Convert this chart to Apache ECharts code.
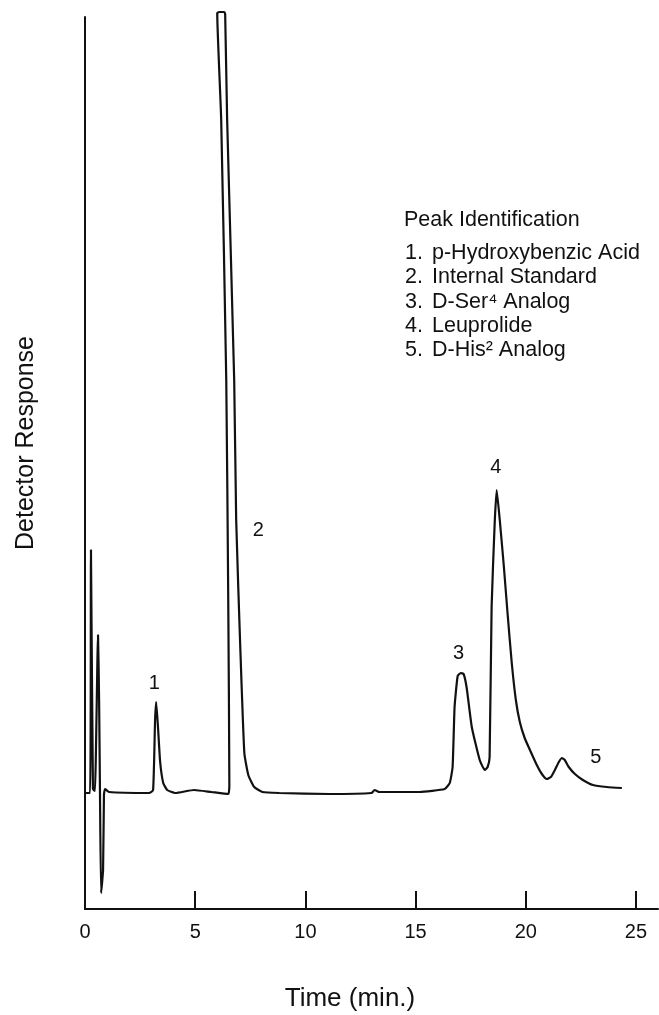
<!DOCTYPE html>
<html>
<head>
<meta charset="utf-8">
<title>Chromatogram</title>
<script src="https://cdn.jsdelivr.net/npm/echarts@6/dist/echarts.min.js"></script>
<style>
  html, body { margin: 0; padding: 0; background: #fff; }
  #chart { width: 659px; height: 1015px; }
</style>
</head>
<body>
<div id="chart"></div>
<script>
// trace: retention time (min) and detector response (arbitrary units, baseline = 0)
const time = [
  0, 0.23, 0.27, 0.36, 0.45, 0.59, 0.64, 0.68, 0.73, 0.82, 0.86, 0.91, 1.09,
  2.91, 3.09, 3.18, 3.23, 3.32, 3.41, 3.55, 3.73, 4.09, 4.95, 5.73,
  6.5, 6.55, 6.5, 6.41, 6.18, 6.0, 6.09, 6.32, 6.36, 6.45, 6.77, 6.86, 7.05, 7.23, 7.41, 7.68, 8.05,
  8.82, 11.09, 13.0, 13.14, 13.36, 15.18,
  16.32, 16.55, 16.68, 16.77, 16.91, 17.05, 17.18, 17.32, 17.55, 17.91, 18.14,
  18.27, 18.36, 18.45, 18.59, 18.68, 18.82, 19.0, 19.18, 19.36, 19.55, 19.73, 19.95,
  20.23, 20.5, 20.73, 20.95, 21.14, 21.32, 21.5, 21.64, 21.77, 21.95, 22.23, 22.59,
  23.05, 23.68, 24.36
];
const response = [
  0, 0, 243, 4, 2, 158, 93, 0, -100, -77, -2, 4, 1,
  0, 3, 73, 91, 63, 31, 10, 3, 0, 3, 1,
  -1, 8, 193, 413, 673, 780, 781, 781, 779, 673, 413, 273, 143, 40, 18, 6, 1,
  0, -1, 0, 3, 1, 1,
  4, 10, 26, 86, 117, 120, 119, 105, 66, 33, 23,
  26, 36, 186, 270, 303, 273, 228, 178, 131, 93, 71, 55,
  41, 28, 19, 14, 16, 23, 31, 35, 33, 26, 19, 13,
  8, 6, 5
];

const tickValues = [5, 10, 15, 20, 25];
const labelValues = [0, 5, 10, 15, 20, 25];

// peak numbers and where they sit above the trace
const peakIds = ['1', '2', '3', '4', '5'];
const peakLabelTime = [3.14, 7.86, 16.95, 18.64, 23.18];
const peakLabelResponse = [110, 263, 140, 326, 36];

const legendTitle = 'Peak Identification';
const peakNames = [
  'p-Hydroxybenzic Acid',
  'Internal Standard',
  'D-Ser\u2074 Analog',
  'Leuprolide',
  'D-His\u00B2 Analog'
];

const FONT = '"Liberation Sans", Arial, Helvetica, sans-serif';
const INK = '#111';

var chart = echarts.init(document.getElementById('chart'));

var legendItems = [{
  type: 'text', x: 404, y: 220,
  style: { text: legendTitle, fontFamily: FONT, fontSize: 21.5, fill: INK, verticalAlign: 'middle' }
}];
peakNames.forEach(function (name, i) {
  var y = 253 + i * 24.3;
  legendItems.push({
    type: 'text', x: 405, y: y,
    style: { text: peakIds[i] + '.', fontFamily: FONT, fontSize: 21.5, fill: INK, verticalAlign: 'middle' }
  });
  legendItems.push({
    type: 'text', x: 432, y: y,
    style: { text: name, fontFamily: FONT, fontSize: 21.5, fill: INK, verticalAlign: 'middle' }
  });
});

chart.setOption({
  animation: false,
  backgroundColor: '#fff',
  grid: { left: 85, right: 1, top: 17, bottom: 106 },
  xAxis: {
    type: 'value',
    min: 0,
    max: 26,
    interval: 5,
    axisLine: { show: true, onZero: false, lineStyle: { color: INK, width: 2 } },
    axisTick: { show: true, inside: true, length: 18, customValues: tickValues, lineStyle: { color: INK, width: 2 } },
    axisLabel: { customValues: labelValues, color: INK, fontFamily: FONT, fontSize: 20, margin: 13 },
    splitLine: { show: false }
  },
  yAxis: {
    type: 'value',
    min: -116,
    max: 776,
    axisLine: { show: true, onZero: false, lineStyle: { color: INK, width: 2 } },
    axisTick: { show: false },
    axisLabel: { show: false },
    splitLine: { show: false }
  },
  graphic: legendItems.concat([
    {
      type: 'text', x: 26, y: 443, rotation: Math.PI / 2,
      style: { text: 'Detector Response', fontFamily: FONT, fontSize: 25, fill: INK, align: 'center', verticalAlign: 'middle' }
    },
    {
      type: 'text', x: 350, y: 999,
      style: { text: 'Time (min.)', fontFamily: FONT, fontSize: 26, fill: INK, align: 'center', verticalAlign: 'middle' }
    }
  ]),
  series: [
    {
      type: 'line',
      data: time.map(function (t, i) { return [t, response[i]]; }),
      showSymbol: false,
      smooth: 0.15,
      clip: false,
      lineStyle: { color: INK, width: 2.2 }
    },
    {
      type: 'scatter',
      symbolSize: 0,
      itemStyle: { opacity: 1 },
      data: peakIds.map(function (id, i) { return { value: [peakLabelTime[i], peakLabelResponse[i]], name: id }; }),
      label: {
        show: true,
        position: 'inside',
        formatter: '{b}',
        color: INK,
        fontFamily: FONT,
        fontSize: 20
      },
      silent: true
    }
  ]
});
</script>
</body>
</html>
